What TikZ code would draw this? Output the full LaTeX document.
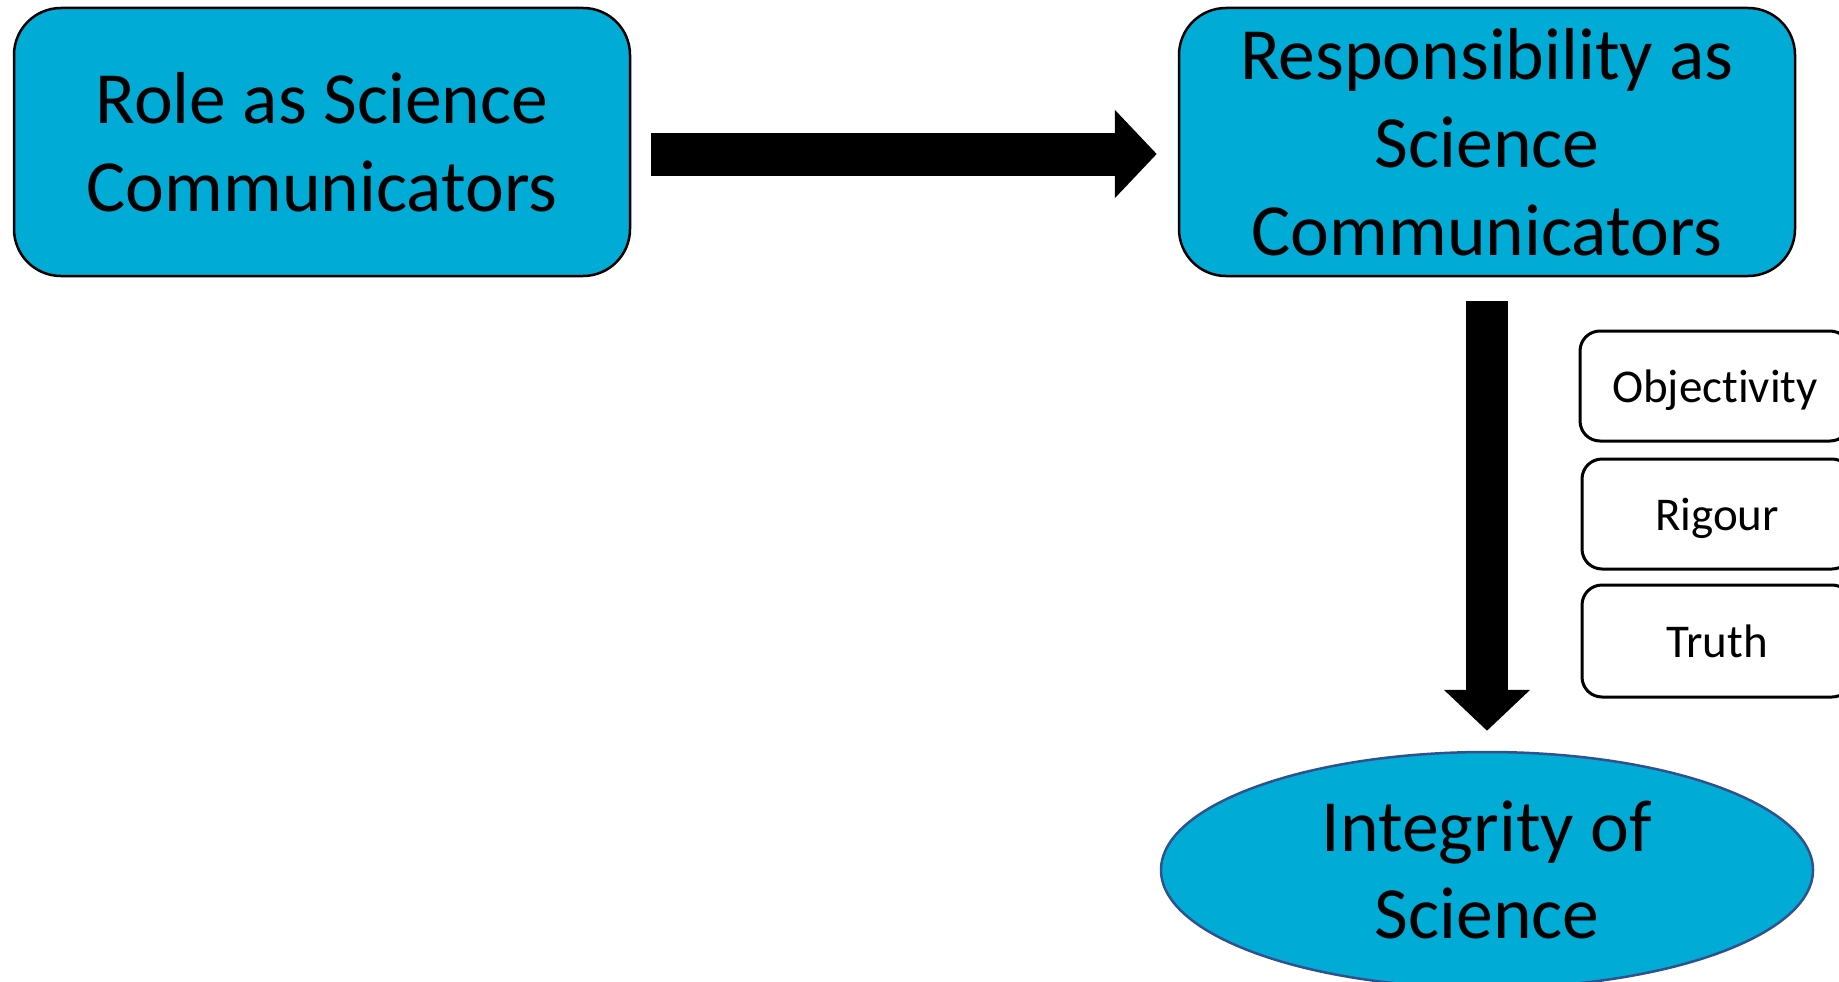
\documentclass[tikz,border=0pt]{standalone}
\usepackage{fontspec}
\setmainfont{Carlito}[Ligatures=NoCommon]
\usetikzlibrary{arrows.meta,shapes.geometric}
\definecolor{cyanfill}{RGB}{0,172,214}
\definecolor{ellline}{RGB}{47,82,143}
\tikzset{
  bigbox/.style={draw=black,line width=2.5pt,fill=cyanfill,rounded corners=47pt,
    minimum width=616pt,minimum height=268pt,inner sep=0pt,align=center,
    font=\fontsize{73.6}{88}\selectfont},
  smallbox/.style={draw=black,line width=3pt,fill=white,rounded corners=20pt,
    minimum width=270pt,minimum height=110pt,inner sep=0pt,align=center,
    text depth=0pt,font=\fontsize{47}{56}\selectfont},
  ellnode/.style={ellipse,draw=ellline,line width=2.5pt,fill=cyanfill,
    minimum width=652pt,minimum height=236pt,inner sep=0pt,align=center,
    font=\fontsize{73.6}{87}\selectfont},
  fatarrow/.style={line width=43pt,-{Triangle[length=42pt,width=86pt]}}
}
\begin{document}
\begin{tikzpicture}[x=1pt,y=-1pt]
\useasboundingbox (0,0) rectangle (1839,982);
\clip (0,0) rectangle (1839,982);
\node[bigbox] (b1) at (322,142) {Role as Science\\Communicators};
\node[bigbox] (b2) at (1487,142) {Responsibility as\\Science\\Communicators};
\node[ellnode] (ell) at (1487,870) {Integrity of\\Science};
\node[smallbox] (obj) at (1715,386) {Objectivity};
\node[smallbox] (rig) at (1717,514) {Rigour};
\node[smallbox,minimum height=112pt] (tru) at (1717,641) {Truth};
\draw[fatarrow,shorten <=20pt,shorten >=21pt] ([yshift=-12pt]b1.east) -- ([yshift=-12pt]b2.west);
\draw[fatarrow,line width=42pt,-{Triangle[length=41pt,width=84pt]},shorten <=24pt,shorten >=20pt] (b2.south) -- (ell.north);
\end{tikzpicture}
\end{document}
